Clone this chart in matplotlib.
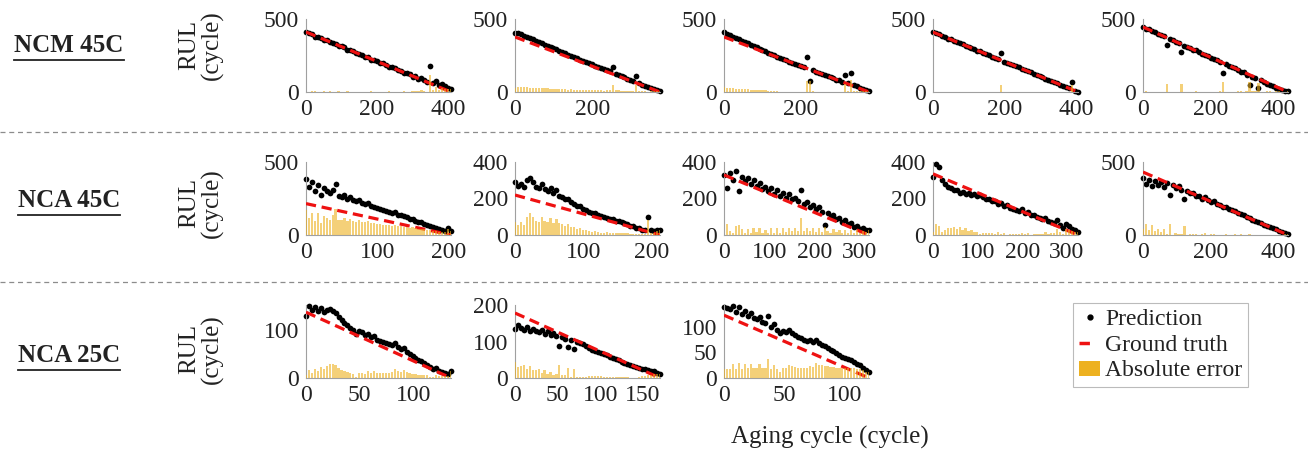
"""
RUL prediction vs ground truth for NCM/NCA cells at 45C and 25C.
"""
import numpy as np
import matplotlib.pyplot as plt
from matplotlib.lines import Line2D
from matplotlib.patches import Patch

plt.rcParams['font.family'] = ['Liberation Serif', 'DejaVu Serif']

# ---------------- data ----------------
row_names = ['NCM 45C', 'NCA 45C', 'NCA 25C']

# last aging cycle of each cell, and ground-truth RUL at cycle 0
ncm45_last = [408, 372, 380, 405, 430]
ncm45_gt0 = [411, 377, 377, 410, 445]
nca45_last = [203, 212, 320, 325, 430]
nca45_gt0 = [215, 219, 329, 335, 431]
nca25_last = [135, 170, 120]
nca25_gt0 = [137, 178, 123]

# predicted RUL, sampled at evenly spaced cycles from 0 to the last cycle
ncm45_pred = [
    [412, 405, 398, 380, 379, 372, 356, 355, 340, 338, 330, 314, 312, 305, 290, 288, 279,
     265, 262, 255, 240, 238, 222, 221, 212, 198, 196, 186, 172, 170, 162, 148, 146, 130,
     128, 120, 104, 110, 88, 95, 80, 70, 178, 62, 75, 45, 52, 38, 30, 22],
    [405, 402, 396, 385, 378, 368, 360, 349, 342, 333, 325, 318, 305, 298, 292, 280, 272,
     265, 255, 248, 238, 230, 222, 214, 205, 198, 190, 180, 172, 165, 156, 150, 142, 173,
     126, 118, 108, 102, 92, 84, 76, 110, 60, 50, 44, 34, 28, 22, 15, 10],
    [410, 400, 392, 380, 370, 362, 350, 342, 335, 322, 315, 305, 296, 288, 280, 270, 262,
     252, 243, 234, 226, 218, 208, 200, 190, 182, 175, 168, 240, 76, 150, 140, 133, 125,
     118, 108, 100, 95, 85, 80, 70, 116, 60, 130, 45, 38, 28, 20, 14, 8],
    [412, 401, 395, 383, 377, 366, 360, 350, 342, 333, 327, 318, 308, 302, 292, 284, 278,
     266, 260, 252, 243, 235, 228, 265, 208, 200, 193, 184, 176, 168, 160, 150, 143, 134,
     126, 118, 108, 102, 92, 85, 76, 68, 60, 50, 42, 35, 26, 66, 8, 3],
    [448, 432, 430, 418, 408, 400, 388, 382, 320, 362, 356, 342, 338, 275, 318, 310, 300,
     290, 285, 272, 262, 255, 248, 236, 225, 218, 205, 130, 192, 180, 170, 162, 150, 140,
     135, 118, 48, 105, 95, 28, 82, 70, 58, 50, 42, 30, 22, 15, 10, 5],
]
nca45_pred = [
    [385, 330, 360, 300, 345, 275, 320, 300, 285, 310, 350, 270, 262, 275, 250, 258, 240,
     232, 238, 222, 215, 220, 200, 195, 185, 180, 172, 165, 160, 150, 155, 140, 138, 128,
     120, 112, 110, 98, 92, 88, 78, 70, 65, 55, 48, 40, 35, 30, 45, 28],
    [290, 270, 280, 262, 300, 315, 290, 262, 255, 280, 250, 240, 260, 228, 245, 215, 210,
     195, 200, 180, 172, 160, 158, 145, 138, 128, 120, 118, 110, 102, 98, 95, 88, 85,
     78, 75, 70, 65, 60, 52, 48, 40, 38, 30, 28, 100, 25, 22, 28, 30],
    [330, 260, 340, 300, 350, 240, 320, 295, 310, 280, 300, 270, 285, 250, 265, 240, 258,
     225, 245, 215, 232, 205, 222, 195, 205, 185, 245, 170, 182, 155, 165, 140, 152, 125,
     55, 118, 100, 112, 88, 95, 72, 80, 60, 65, 45, 52, 32, 38, 25, 30],
    [320, 390, 370, 300, 280, 265, 255, 245, 248, 232, 238, 222, 230, 218, 225, 215, 218,
     210, 200, 195, 185, 188, 170, 175, 160, 165, 150, 145, 138, 132, 140, 120, 125, 110,
     108, 100, 95, 85, 92, 75, 70, 68, 80, 55, 40, 60, 50, 35, 25, 15],
    [390, 350, 380, 335, 370, 345, 360, 330, 355, 275, 340, 320, 335, 310, 245, 300, 285,
     290, 268, 265, 250, 258, 240, 225, 230, 212, 205, 195, 190, 178, 170, 165, 150, 145,
     135, 125, 118, 105, 98, 90, 80, 70, 62, 55, 45, 38, 28, 20, 15, 10],
]
nca25_pred = [
    [130, 150, 142, 148, 140, 145, 138, 142, 144, 140, 136, 128, 120, 115, 110, 105, 100,
     92, 98, 95, 90, 92, 85, 88, 80, 78, 75, 72, 70, 68, 72, 65, 60, 62, 55, 50, 45, 42,
     38, 35, 32, 28, 22, 18, 20, 15, 12, 10, 8, 15],
    [135, 145, 138, 132, 140, 128, 135, 130, 125, 132, 120, 128, 118, 122, 115, 88, 112,
     108, 85, 105, 80, 98, 95, 92, 88, 82, 78, 75, 72, 68, 65, 62, 58, 55, 52, 48, 45, 42,
     38, 36, 32, 30, 28, 26, 25, 22, 20, 18, 15, 12],
    [140, 138, 135, 142, 130, 140, 125, 132, 122, 128, 118, 115, 120, 110, 108, 122, 100,
     105, 95, 88, 92, 90, 94, 88, 85, 80, 78, 75, 72, 74, 70, 75, 68, 65, 62, 58, 55, 52,
     48, 45, 42, 40, 38, 35, 32, 28, 25, 20, 15, 12],
]

# axis ticks and upper y limit of every panel
ncm45_xticks = [[0, 200, 400], [0, 200], [0, 200], [0, 200, 400], [0, 200, 400]]
ncm45_yticks = [[0, 500]] * 5
ncm45_ytop = [500] * 5
nca45_xticks = [[0, 100, 200], [0, 100, 200], [0, 100, 200, 300], [0, 100, 200, 300], [0, 200, 400]]
nca45_yticks = [[0, 500], [0, 200, 400], [0, 200, 400], [0, 200, 400], [0, 500]]
nca45_ytop = [500, 400, 400, 400, 500]
nca25_xticks = [[0, 50, 100], [0, 50, 100, 150], [0, 50, 100]]
nca25_yticks = [[0, 100], [0, 100, 200], [0, 50, 100]]
nca25_ytop = [152, 200, 143]

# ---------------- styling / layout ----------------
W, H = 1308, 453
PRED_C = 'black'
GT_C = '#ee1111'
ERR_C = '#EDB120'
SPINE_C = '#a0a0a0'
TXT_C = '#222222'
TICK_FS = 17
LABEL_FS = 18

col_left = [306, 515, 724, 933, 1143]
row_top = [19, 162, 305]
ax_w, ax_h = 145, 73
label_y = [45, 203, 349]
name_y = [45, 200, 355]
sep_y = [132, 282]


def fx(px):
    return px / W


def fy(py):
    return 1 - py / H


def draw_panel(ax, last, gt0, pred, xticks, yticks, ytop):
    pred = np.asarray(pred, dtype=float)
    cyc = np.linspace(0, last, len(pred))
    gt = np.interp(cyc, [0, last], [gt0, 0])
    err = np.abs(pred - gt)
    step = cyc[1] - cyc[0]

    ax.scatter(cyc, pred, s=17, color=PRED_C, linewidths=0, zorder=2, clip_on=False)
    ax.plot([0, last], [gt0, 0], color=GT_C, lw=2.3, ls=(0, (3.2, 1.8)), zorder=3)
    ax.bar(cyc, err, width=0.75 * step, color=ERR_C, alpha=0.6, linewidth=0, zorder=4)

    ax.set_xlim(0, last)
    ax.set_ylim(0, ytop)
    ax.set_xticks(xticks)
    ax.set_yticks(yticks)
    for s in ['top', 'right']:
        ax.spines[s].set_visible(False)
    for s in ['left', 'bottom']:
        ax.spines[s].set_color(SPINE_C)
        ax.spines[s].set_linewidth(0.8)
    ax.tick_params(length=0, labelsize=TICK_FS, colors=TXT_C, pad=5)
    ax.patch.set_alpha(0)


fig = plt.figure(figsize=(W / 100, H / 100), dpi=100)

rows = [
    (ncm45_last, ncm45_gt0, ncm45_pred, ncm45_xticks, ncm45_yticks, ncm45_ytop),
    (nca45_last, nca45_gt0, nca45_pred, nca45_xticks, nca45_yticks, nca45_ytop),
    (nca25_last, nca25_gt0, nca25_pred, nca25_xticks, nca25_yticks, nca25_ytop),
]

for r, (lasts, gt0s, preds, xts, yts, ytops) in enumerate(rows):
    for c in range(len(preds)):
        ax = fig.add_axes([fx(col_left[c]), fy(row_top[r] + ax_h), fx(ax_w), ax_h / H])
        draw_panel(ax, lasts[c], gt0s[c], preds[c], xts[c], yts[c], ytops[c])

    # shared y label of the row
    fig.text(fx(201), fy(label_y[r]), 'RUL\n(cycle)', rotation=90, ha='center', va='center',
             fontsize=LABEL_FS, color=TXT_C, linespacing=1.05, multialignment='center')

# row names (bold, underlined)
name_texts = []
for r, name in enumerate(row_names):
    t = fig.text(fx(69), fy(name_y[r]), name, ha='center', va='center',
                 fontsize=LABEL_FS, fontweight='bold', color=TXT_C)
    name_texts.append(t)

# dashed separators between rows
for y in sep_y:
    fig.add_artist(Line2D([0, 1], [fy(y), fy(y)], transform=fig.transFigure,
                          color='#8c8c8c', lw=0.9, ls=(0, (4, 3))))

# common x label
fig.text(fx(830), fy(437), 'Aging cycle (cycle)', ha='center', va='center',
         fontsize=LABEL_FS, color=TXT_C)

# legend
handles = [
    Line2D([], [], marker='.', ls='none', color=PRED_C, markersize=7),
    Line2D([], [], color=GT_C, lw=2.5, ls=(0, (3, 10))),
    Patch(facecolor=ERR_C, edgecolor='none'),
]
leg = fig.legend(handles, ['Prediction', 'Ground truth', 'Absolute error'],
                 loc='upper left', bbox_to_anchor=(fx(1073), fy(303)),
                 fontsize=TICK_FS, frameon=True, fancybox=False, edgecolor='#aaaaaa',
                 handlelength=0.9, handletextpad=0.2, borderpad=0.25,
                 labelspacing=0.2, borderaxespad=0, handleheight=0.6)
leg.get_frame().set_linewidth(0.8)
for txt in leg.get_texts():
    txt.set_color(TXT_C)

# underline the row names
fig.canvas.draw()
renderer = fig.canvas.get_renderer()
for t in name_texts:
    bb = t.get_window_extent(renderer)
    y = bb.y0 - 3
    fig.add_artist(Line2D([bb.x0 / W, bb.x1 / W], [y / H, y / H], transform=fig.transFigure,
                          color=TXT_C, lw=1.3))

fig.savefig('out.png', dpi=100)
plt.close(fig)
